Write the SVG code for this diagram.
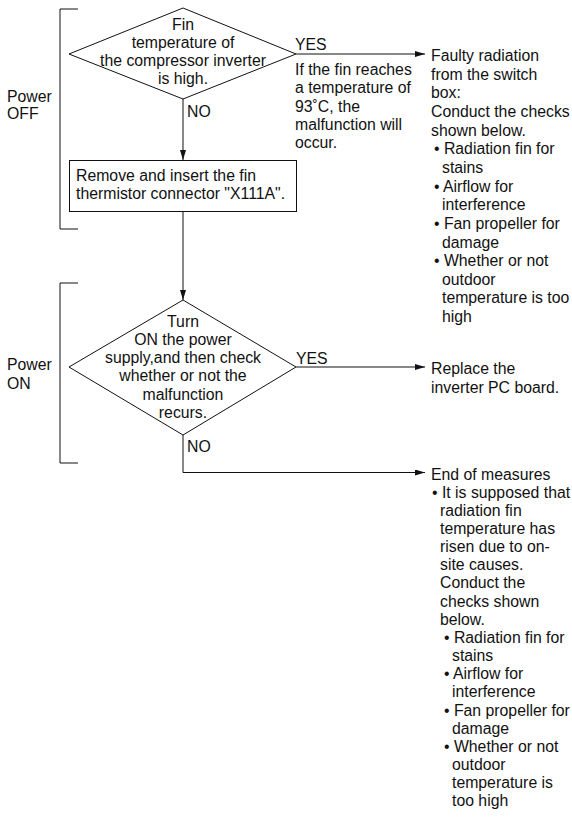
<svg xmlns="http://www.w3.org/2000/svg" width="572" height="818" viewBox="0 0 572 818">
<defs>
<style>
text{font-family:"Liberation Sans",Arial,sans-serif;font-size:15.8px;fill:#111}
.c{text-anchor:middle}
.ln{fill:none;stroke:#111;stroke-width:1}
</style>
<marker id="ah" viewBox="0 0 10 6" refX="10" refY="3" markerWidth="10" markerHeight="6" markerUnits="userSpaceOnUse" orient="auto">
<path d="M0,0 L10,3 L0,6 Z" fill="#111"/>
</marker>
</defs>
<rect width="572" height="818" fill="#fff"/>
<g id="bracket-off">
<path class="ln" d="M78,9 H60 V229 H78"/>
<text x="7" y="101.5">Power</text>
<text x="7" y="119">OFF</text>
</g>
<g id="bracket-on">
<path class="ln" d="M78,283 H60 V463 H78"/>
<text x="7" y="370">Power</text>
<text x="7" y="388.5">ON</text>
</g>
<g id="d1">
<path class="ln" d="M183,8 L296,54 L183,99 L69,54 Z"/>
<text class="c" x="183" y="29.5">Fin</text>
<text class="c" x="183" y="47.5">temperature of</text>
<text class="c" x="183" y="65.5">the compressor inverter</text>
<text class="c" x="183" y="83.5">is high.</text>
</g>
<g id="note1">
<text x="295" y="75">If the fin reaches</text>
<text x="295" y="93.3">a temperature of</text>
<text x="295" y="111.6">93˚C, the</text>
<text x="295" y="130">malfunction will</text>
<text x="295" y="148.3">occur.</text>
</g>
<g id="box1">
<rect class="ln" x="69.5" y="160.5" width="227" height="51"/>
<text x="76" y="181">Remove and insert the fin</text>
<text x="76" y="199">thermistor connector "X111A".</text>
</g>
<g id="d2">
<path class="ln" d="M183,300 L296,367 L183,435 L69,367 Z"/>
<text class="c" x="183" y="326.5">Turn</text>
<text class="c" x="183" y="344.8">ON the power</text>
<text class="c" x="183" y="363.1">supply,and then check</text>
<text class="c" x="183" y="381.4">whether or not the</text>
<text class="c" x="183" y="399.7">malfunction</text>
<text class="c" x="183" y="418">recurs.</text>
</g>
<g id="r1">
<text x="431" y="61">Faulty radiation</text>
<text x="431" y="79.6">from the switch</text>
<text x="431" y="98.3">box:</text>
<text x="431" y="116.9">Conduct the checks</text>
<text x="431" y="135.6">shown below.</text>
<text x="434" y="154.2">• Radiation fin for</text>
<text x="442" y="172.9">stains</text>
<text x="434" y="191.5">• Airflow for</text>
<text x="442" y="210.2">interference</text>
<text x="434" y="228.8">• Fan propeller for</text>
<text x="442" y="247.5">damage</text>
<text x="434" y="266.1">• Whether or not</text>
<text x="442" y="284.8">outdoor</text>
<text x="442" y="303.4">temperature is too</text>
<text x="442" y="322">high</text>
</g>
<g id="r2">
<text x="431" y="373.5">Replace the</text>
<text x="431" y="392.5">inverter PC board.</text>
</g>
<g id="r3">
<text x="431" y="479.5">End of measures</text>
<text x="432" y="497.7">• It is supposed that</text>
<text x="440" y="515.8">radiation fin</text>
<text x="440" y="534">temperature has</text>
<text x="440" y="552.1">risen due to on-</text>
<text x="440" y="570.3">site causes.</text>
<text x="440" y="588.4">Conduct the</text>
<text x="440" y="606.6">checks shown</text>
<text x="440" y="624.7">below.</text>
<text x="444" y="642.9">• Radiation fin for</text>
<text x="452" y="661">stains</text>
<text x="444" y="679.2">• Airflow for</text>
<text x="452" y="697.3">interference</text>
<text x="444" y="715.5">• Fan propeller for</text>
<text x="452" y="733.6">damage</text>
<text x="444" y="751.8">• Whether or not</text>
<text x="452" y="769.9">outdoor</text>
<text x="452" y="788.1">temperature is</text>
<text x="452" y="806.2">too high</text>
</g>
<g id="connectors">
<path class="ln" d="M183,99 V160" marker-end="url(#ah)"/>
<path class="ln" d="M183,212 V300" marker-end="url(#ah)"/>
<path class="ln" d="M296,54 H425" marker-end="url(#ah)"/>
<path class="ln" d="M296,367 H425" marker-end="url(#ah)"/>
<path class="ln" d="M183,435 V472.5 H425" marker-end="url(#ah)"/>
<text x="295" y="50">YES</text>
<text x="187" y="117">NO</text>
<text x="296" y="363.5">YES</text>
<text x="187" y="451.5">NO</text>
</g>
</svg>
